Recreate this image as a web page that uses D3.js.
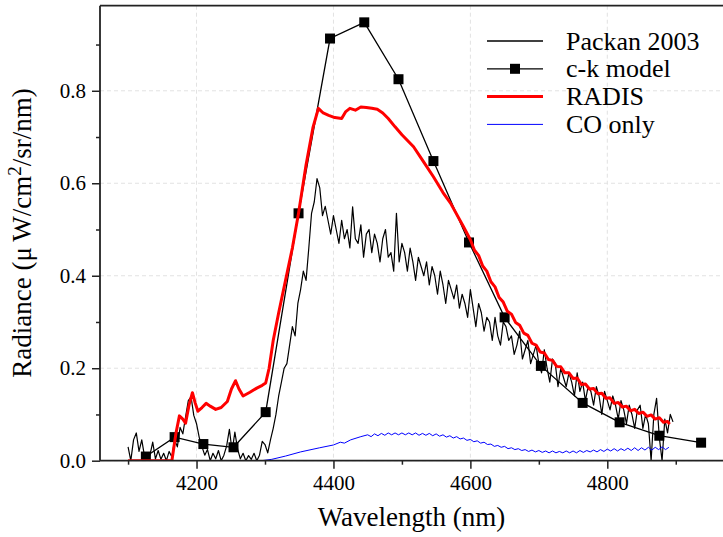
<!DOCTYPE html>
<html>
<head>
<meta charset="utf-8">
<script src="https://cdn.jsdelivr.net/npm/d3@7"></script>
<style>
  body { margin: 0; background: #fff; }
</style>
</head>
<body>
<div id="chart"></div>
<script>
// Packan 2003 measurement, sampled every 4 nm from 4100 nm
const packanStart = 4100, packanStep = 4;
const packanRadiance = [
  0.03, 0.0, 0.045, 0.06, 0.02, 0.045, 0.01, 0.01, 0.012, 0.04,
  0.004, 0.022, 0.003, 0.016, 0.0, 0.02, 0.008, 0.045, 0.03, 0.072,
  0.058, 0.095, 0.13, 0.138, 0.098, 0.08, 0.05, 0.03, 0.012, 0.024,
  0.0, 0.016, 0.004, 0.022, 0.0, 0.012, 0.032, 0.068, 0.02, 0.062,
  0.025, 0.004, 0.016, 0.0, 0.011, 0.003, 0.016, 0.0, 0.012, 0.042,
  0.035, 0.017, 0.045, 0.07, 0.1, 0.14, 0.17, 0.2, 0.21, 0.25,
  0.29, 0.27, 0.34, 0.37, 0.41, 0.39, 0.46, 0.535, 0.56, 0.61,
  0.59, 0.53, 0.55, 0.52, 0.49, 0.53, 0.5, 0.47, 0.52, 0.48,
  0.5, 0.46, 0.549, 0.48, 0.47, 0.51, 0.44, 0.49, 0.5, 0.45,
  0.49, 0.47, 0.43, 0.48, 0.5, 0.44, 0.45, 0.41, 0.535, 0.43,
  0.47, 0.45, 0.41, 0.46, 0.43, 0.39, 0.44, 0.42, 0.4, 0.43,
  0.38, 0.42, 0.4, 0.36, 0.41, 0.38, 0.34, 0.39, 0.37, 0.35,
  0.38, 0.33, 0.36, 0.34, 0.31, 0.37, 0.33, 0.29, 0.34, 0.32,
  0.28, 0.31, 0.3, 0.26, 0.31, 0.27, 0.25, 0.3, 0.29, 0.26,
  0.27, 0.23, 0.25, 0.28, 0.22, 0.24, 0.26, 0.21, 0.23, 0.25,
  0.21, 0.19, 0.24, 0.2, 0.17, 0.22, 0.21, 0.16, 0.2, 0.18,
  0.16, 0.19, 0.17, 0.14, 0.19, 0.15, 0.17, 0.13, 0.16, 0.15,
  0.12, 0.16, 0.14, 0.1, 0.15, 0.13, 0.11, 0.14, 0.12, 0.09,
  0.13, 0.11, 0.08, 0.12, 0.1, 0.07, 0.11, 0.12, 0.07, 0.1,
  0.08, 0.0, 0.1, 0.135, 0.05, 0.0, 0.09, 0.06, 0.1, 0.084
];

// c-k model points
const ckWavelength = [4126, 4168, 4210, 4254, 4301, 4349, 4395, 4445, 4495, 4546, 4598, 4650, 4703, 4764, 4818, 4876, 4937];
const ckRadiance = [0.009, 0.051, 0.036, 0.029, 0.105, 0.535, 0.913, 0.948, 0.825, 0.648, 0.472, 0.31, 0.205, 0.125, 0.083, 0.054, 0.039];

// RADIS spectrum
const radisWavelength = [
  4100, 4164, 4170, 4175, 4180, 4184, 4189, 4194, 4198, 4202, 4208, 4214, 4220, 4228, 4236,
  4245, 4251, 4257, 4262, 4268, 4278, 4288, 4296, 4301, 4306, 4312, 4320, 4330, 4340, 4349,
  4360, 4370, 4378, 4385, 4393, 4402, 4412, 4418, 4424, 4432, 4440, 4448, 4456, 4464, 4472,
  4480, 4490, 4500, 4517, 4530, 4546, 4560, 4571, 4590,
  4600, 4606, 4612, 4618, 4624, 4630, 4636, 4642, 4648, 4654, 4660, 4666, 4672, 4678, 4684,
  4690, 4696, 4702, 4708, 4714, 4720, 4726, 4732, 4738, 4744, 4750, 4756, 4762, 4768, 4774,
  4780, 4786, 4792, 4798, 4804, 4810, 4816, 4822, 4828, 4834, 4840, 4846, 4852, 4858, 4864,
  4870, 4876, 4882, 4888, 4891
];
const radisRadiance = [
  0, 0, 0.06, 0.097, 0.09, 0.081, 0.12, 0.147, 0.125, 0.107, 0.115, 0.124, 0.118, 0.111, 0.115,
  0.128, 0.155, 0.173, 0.155, 0.14, 0.148, 0.157, 0.163, 0.168, 0.2, 0.26, 0.32, 0.39, 0.46, 0.535,
  0.64, 0.72, 0.762, 0.752, 0.747, 0.742, 0.74, 0.755, 0.762, 0.758, 0.765, 0.764, 0.762, 0.76, 0.752,
  0.74, 0.722, 0.705, 0.679, 0.65, 0.614, 0.58, 0.557, 0.506,
  0.478, 0.455, 0.444, 0.421, 0.41, 0.387, 0.376, 0.353, 0.343, 0.323, 0.317, 0.299, 0.293, 0.276, 0.271,
  0.254, 0.25, 0.235, 0.233, 0.219, 0.217, 0.204, 0.203, 0.19, 0.19, 0.178, 0.179, 0.165, 0.166, 0.155,
  0.156, 0.145, 0.146, 0.135, 0.136, 0.124, 0.126, 0.116, 0.118, 0.108, 0.111, 0.102, 0.105, 0.096, 0.099,
  0.09, 0.093, 0.083, 0.085, 0.079
];

// CO only spectrum
const coWavelength = [
  4100, 4295, 4310, 4330, 4352, 4380, 4400, 4410, 4416, 4425, 4440,
  4450, 4455, 4460, 4465, 4470, 4475, 4480, 4485, 4490, 4495, 4500, 4505, 4510, 4515, 4520, 4525,
  4530, 4535, 4540, 4545, 4550, 4555, 4560, 4565, 4570, 4575, 4580, 4585, 4590, 4595, 4600, 4605,
  4610, 4615, 4620, 4625, 4630, 4635, 4640, 4645, 4650, 4655, 4660, 4665, 4670, 4675, 4680, 4685,
  4690, 4695, 4700, 4705, 4710, 4715, 4720, 4725, 4730, 4735, 4740, 4745, 4750, 4755, 4760, 4765,
  4770, 4775, 4780, 4785, 4790, 4795, 4800, 4805, 4810, 4815, 4820, 4825, 4830, 4835, 4840, 4845,
  4850, 4855, 4860, 4865, 4870, 4875, 4880, 4885, 4890
];
const coRadiance = [
  0, 0, 0.003, 0.01, 0.019, 0.028, 0.034, 0.04, 0.038, 0.045, 0.052,
  0.056, 0.052, 0.058, 0.054, 0.059, 0.055, 0.06, 0.056, 0.06, 0.056, 0.06, 0.056, 0.06, 0.056, 0.06, 0.055,
  0.059, 0.055, 0.059, 0.054, 0.058, 0.053, 0.056, 0.051, 0.054, 0.049, 0.052, 0.047, 0.049, 0.044, 0.046, 0.041,
  0.043, 0.038, 0.04, 0.035, 0.036, 0.031, 0.033, 0.029, 0.031, 0.026, 0.028, 0.024, 0.026, 0.022, 0.024, 0.02,
  0.023, 0.019, 0.022, 0.018, 0.021, 0.017, 0.021, 0.017, 0.02, 0.017, 0.021, 0.017, 0.021, 0.017, 0.022, 0.018,
  0.022, 0.019, 0.023, 0.019, 0.024, 0.02, 0.025, 0.021, 0.026, 0.021, 0.026, 0.022, 0.027, 0.022, 0.028, 0.022,
  0.028, 0.023, 0.029, 0.023, 0.029, 0.024, 0.03, 0.024, 0.029
];

const xMajor = [4200, 4400, 4600, 4800];
const xMinor = [4100, 4300, 4500, 4700, 4900];
const yMajor = [0, 0.2, 0.4, 0.6, 0.8];
const yMinor = [0.1, 0.3, 0.5, 0.7, 0.9];

const legendItems = [
  {label: "Packan 2003", color: "#000", width: 1.3, marker: false},
  {label: "c-k model", color: "#000", width: 1.3, marker: true},
  {label: "RADIS", color: "#ff0000", width: 3, marker: false},
  {label: "CO only", color: "#0000ff", width: 1, marker: false}
];

const serif = "'Liberation Serif', 'Times New Roman', 'DejaVu Serif', serif";

// Set the dimensions and margins of the graph
const W = 723, H = 537;
const margin = {top: 5.7, right: 0, bottom: 76.3, left: 100},
    width = W - margin.left - margin.right,
    height = H - margin.top - margin.bottom;

const svg = d3.select("#chart")
  .append("svg")
    .attr("width", W)
    .attr("height", H)
    .style("font-family", serif)
  .append("g")
    .attr("transform", `translate(${margin.left},${margin.top})`);

const x = d3.scaleLinear().domain([4059, 4969]).range([0, width]);
const y = d3.scaleLinear().domain([0, 0.984]).range([height, 0]);

// Grid
svg.append("g").selectAll("line")
  .data(xMajor).join("line")
    .attr("x1", d => x(d)).attr("x2", d => x(d))
    .attr("y1", 0).attr("y2", height)
    .attr("stroke", "#e2e2e2").attr("stroke-dasharray", "4,3");
svg.append("g").selectAll("line")
  .data(yMajor).join("line")
    .attr("x1", 0).attr("x2", width)
    .attr("y1", d => y(d)).attr("y2", d => y(d))
    .attr("stroke", "#e2e2e2").attr("stroke-dasharray", "4,3");

svg.append("defs").append("clipPath").attr("id", "clip")
  .append("rect").attr("width", width).attr("height", height);

const plot = svg.append("g").attr("clip-path", "url(#clip)");
const line = d3.line().x(d => x(d[0])).y(d => y(d[1]));

const packan = packanRadiance.map((v, i) => [packanStart + i * packanStep, v]);
const ck = ckWavelength.map((w, i) => [w, ckRadiance[i]]);
const radis = radisWavelength.map((w, i) => [w, radisRadiance[i]]);
const co = coWavelength.map((w, i) => [w, coRadiance[i]]);

plot.append("path").datum(packan)
  .attr("d", line).attr("fill", "none")
  .attr("stroke", "#000").attr("stroke-width", 1.2).attr("stroke-linejoin", "round");

plot.append("path").datum(ck)
  .attr("d", line).attr("fill", "none")
  .attr("stroke", "#000").attr("stroke-width", 1.3);
plot.selectAll("rect.ck").data(ck).join("rect")
  .attr("class", "ck")
  .attr("x", d => x(d[0]) - 5).attr("y", d => y(d[1]) - 5)
  .attr("width", 10).attr("height", 10).attr("fill", "#000");

plot.append("path").datum(radis)
  .attr("d", line).attr("fill", "none")
  .attr("stroke", "#ff0000").attr("stroke-width", 3).attr("stroke-linejoin", "round");

plot.append("path").datum(co)
  .attr("d", line).attr("fill", "none")
  .attr("stroke", "#0000ff").attr("stroke-width", 1);

// Axes
const axisColor = "#222";
function styleAxis(g) {
  g.attr("font-family", null).attr("font-size", null);
  g.selectAll("path.domain").remove();
  g.selectAll(".tick line").attr("stroke", axisColor).attr("stroke-width", 1.5);
  g.selectAll("text").style("font-family", serif).style("font-size", "21px").attr("fill", "#000");
}

svg.append("g")
  .attr("transform", `translate(0,${height})`)
  .call(d3.axisBottom(x).tickValues(xMajor).tickSize(8).tickPadding(6).tickFormat(d3.format("d")))
  .call(styleAxis);
svg.append("g")
  .attr("transform", `translate(0,${height})`)
  .call(d3.axisBottom(x).tickValues(xMinor).tickSize(4).tickFormat(""))
  .call(styleAxis);
svg.append("g")
  .call(d3.axisLeft(y).tickValues(yMajor).tickSize(8).tickPadding(6).tickFormat(d3.format(".1f")))
  .call(styleAxis);
svg.append("g")
  .call(d3.axisLeft(y).tickValues(yMinor).tickSize(4).tickFormat(""))
  .call(styleAxis);

// Spines: left, bottom, top
svg.append("line").attr("x1", 0).attr("x2", 0).attr("y1", 0).attr("y2", height)
  .attr("stroke", axisColor).attr("stroke-width", 1.8);
svg.append("line").attr("x1", 0).attr("x2", width).attr("y1", height).attr("y2", height)
  .attr("stroke", axisColor).attr("stroke-width", 1.8);
svg.append("line").attr("x1", 0).attr("x2", width).attr("y1", 0).attr("y2", 0)
  .attr("stroke", axisColor).attr("stroke-width", 1.8);

// Axis labels
svg.append("text")
  .attr("x", width / 2).attr("y", H - margin.top - 11)
  .attr("text-anchor", "middle")
  .style("font-family", serif)
  .style("font-size", "27px")
  .text("Wavelength (nm)");

const yl = svg.append("text")
  .attr("transform", `translate(${31 - margin.left},${233 - margin.top}) rotate(-90)`)
  .attr("text-anchor", "middle")
  .style("font-family", serif)
  .style("font-size", "27px");
yl.append("tspan").text("Radiance (\u03bc\u2009W/cm");
yl.append("tspan").attr("dy", -10).style("font-size", "19px").text("2");
yl.append("tspan").attr("dy", 10).text("/sr/nm)");

// Legend
const legend = svg.append("g").attr("transform", `translate(${487 - margin.left},${41 - margin.top})`);
legendItems.forEach((d, i) => {
  const g = legend.append("g").attr("transform", `translate(0,${i * 27.8})`);
  g.append("line").attr("x1", 0).attr("x2", 56).attr("y1", 0).attr("y2", 0)
    .attr("stroke", d.color).attr("stroke-width", d.width);
  if (d.marker) {
    g.append("rect").attr("x", 23).attr("y", -5).attr("width", 10).attr("height", 10).attr("fill", "#000");
  }
  g.append("text").attr("x", 79).attr("y", 8.5)
    .style("font-family", serif)
    .style("font-size", "26px")
    .text(d.label);
});
</script>
</body>
</html>
